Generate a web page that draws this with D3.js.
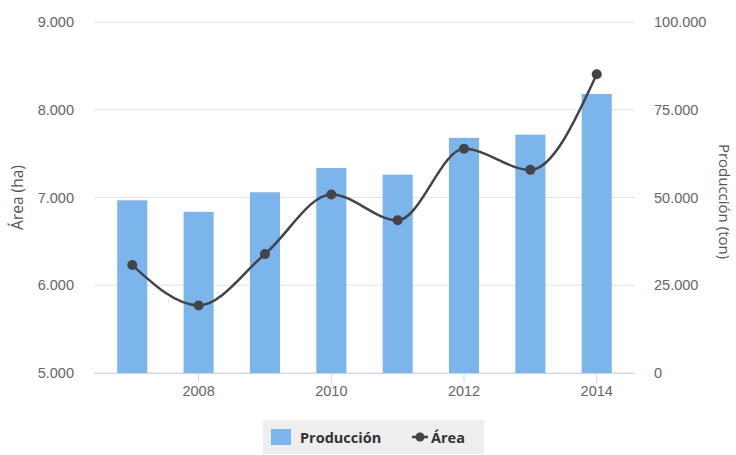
<!DOCTYPE html>
<html>
<head>
<meta charset="utf-8">
<script src="https://cdn.jsdelivr.net/npm/d3@7"></script>
<style>
  body { margin: 0; background: #fff; }
  svg { font-family: "Open Sans", sans-serif; }
</style>
</head>
<body>
<div id="chart"></div>
<script>
'use strict';

const years = [2007, 2008, 2009, 2010, 2011, 2012, 2013, 2014];
const produccion = [49200, 45900, 51500, 58400, 56500, 67000, 67900, 79500];
const area = [6230, 5770, 6355, 7035, 6740, 7555, 7315, 8405];
const areaTicks = [5000, 6000, 7000, 8000, 9000];
const prodTicks = [0, 25000, 50000, 75000, 100000];
const xTicks = [2008, 2010, 2012, 2014];

const W = 736, H = 455;
const margin = { top: 22, right: 101, bottom: 82, left: 94 };
const width = W - margin.left - margin.right;
const height = H - margin.top - margin.bottom;

const loc = d3.formatLocale({ decimal: ',', thousands: '.', grouping: [3], currency: ['', ''] });
const fmt = loc.format(',d');

const svg = d3.select('#chart').append('svg')
    .attr('width', W)
    .attr('height', H);

const g = svg.append('g')
    .attr('transform', `translate(${margin.left}, ${margin.top})`);

const x = d3.scaleBand().domain(years).range([0, width]).paddingInner(0.547).paddingOuter(0.35);
const yL = d3.scaleLinear().domain([5000, 9000]).range([height, 0]);
const yR = d3.scaleLinear().domain([0, 100000]).range([height, 0]);

// grid
g.append('g')
  .selectAll('line')
  .data(areaTicks)
  .join('line')
    .attr('x1', 0)
    .attr('x2', width)
    .attr('y1', d => yL(d))
    .attr('y2', d => yL(d))
    .attr('stroke', '#e3e3e3');

// bars
g.append('g')
  .selectAll('rect')
  .data(years)
  .join('rect')
    .attr('x', d => x(d))
    .attr('width', x.bandwidth())
    .attr('y', (d, i) => yR(produccion[i]))
    .attr('height', (d, i) => height - yR(produccion[i]))
    .attr('fill', '#7cb5ec');

// x axis
const xAxis = d3.axisBottom(x).tickValues(xTicks).tickSize(9).tickPadding(4);
const gx = g.append('g')
    .attr('transform', `translate(0, ${height})`)
    .call(xAxis);
gx.select('.domain').attr('stroke', '#ccd6eb').attr('d', `M0,0.5H${width}`);
gx.selectAll('.tick line').attr('stroke', '#ccd6eb');
gx.selectAll('.tick text').attr('fill', '#666').style('font-size', '14.5px');

// left axis
const gl = g.append('g').call(d3.axisLeft(yL).tickValues(areaTicks).tickFormat(fmt).tickSize(0).tickPadding(20));
gl.select('.domain').remove();
gl.selectAll('text').attr('fill', '#666').style('font-size', '14.5px');

// right axis
const gr = g.append('g')
    .attr('transform', `translate(${width}, 0)`)
    .call(d3.axisRight(yR).tickValues(prodTicks).tickFormat(fmt).tickSize(0).tickPadding(19));
gr.select('.domain').remove();
gr.selectAll('text').attr('fill', '#666').style('font-size', '14.5px');

// axis titles
svg.append('text')
    .attr('transform', `translate(23, ${margin.top + height / 2}) rotate(-90)`)
    .attr('text-anchor', 'middle')
    .attr('fill', '#555')
    .style('font-size', '15.5px')
    .text('Área (ha)');

svg.append('text')
    .attr('transform', `translate(719, ${margin.top + height / 2 + 4}) rotate(90)`)
    .attr('text-anchor', 'middle')
    .attr('fill', '#555')
    .style('font-size', '15px')
    .text('Producción (ton)');

// line
const cx = d => x(d) + x.bandwidth() / 2;
const line = d3.line()
    .x(d => cx(d))
    .y((d, i) => yL(area[i]))
    .curve(d3.curveMonotoneX);

g.append('path')
    .datum(years)
    .attr('d', line)
    .attr('fill', 'none')
    .attr('stroke', '#434348')
    .attr('stroke-width', 2.5);

g.append('g')
  .selectAll('circle')
  .data(years)
  .join('circle')
    .attr('cx', d => cx(d))
    .attr('cy', (d, i) => yL(area[i]))
    .attr('r', 5)
    .attr('fill', '#434348');

// legend
const lg = svg.append('g').attr('transform', 'translate(263, 420)');
lg.append('rect')
    .attr('width', 221)
    .attr('height', 34)
    .attr('fill', '#eeeeee');
lg.append('rect')
    .attr('x', 8).attr('y', 9)
    .attr('width', 20).attr('height', 16)
    .attr('fill', '#7cb5ec');
lg.append('text')
    .attr('x', 37).attr('y', 23)
    .attr('fill', '#333')
    .style('font-size', '14.5px')
    .style('font-weight', 'bold')
    .text('Producción');
lg.append('line')
    .attr('x1', 149).attr('x2', 165)
    .attr('y1', 17).attr('y2', 17)
    .attr('stroke', '#434348').attr('stroke-width', 2.5);
lg.append('circle')
    .attr('cx', 157).attr('cy', 17).attr('r', 4.5)
    .attr('fill', '#434348');
lg.append('text')
    .attr('x', 168).attr('y', 23)
    .attr('fill', '#333')
    .style('font-size', '14.5px')
    .style('font-weight', 'bold')
    .text('Área');
</script>
</body>
</html>
